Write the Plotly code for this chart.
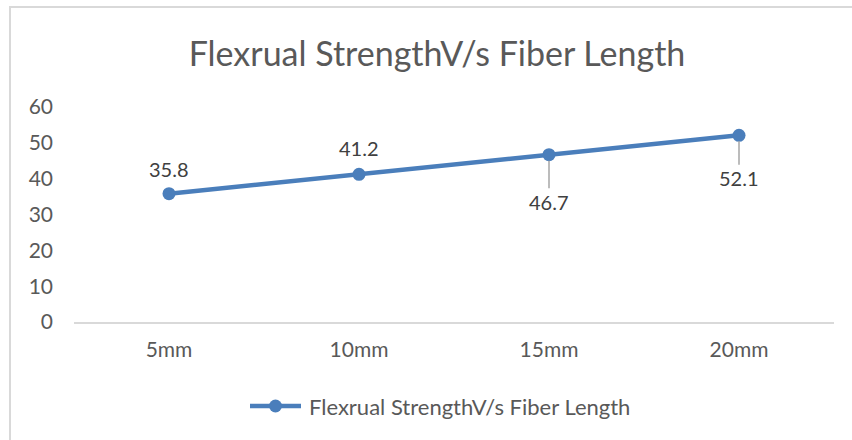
import plotly.graph_objects as go

categories = ["5mm", "10mm", "15mm", "20mm"]
values = [35.8, 41.2, 46.7, 52.1]
label_text = ["35.8", "41.2", "46.7", "52.1"]
label_offset = [-25, -26, 47, 43]
leader_line = [False, False, True, True]
series_name = "Flexrual StrengthV/s Fiber Length"
title_text = "Flexrual StrengthV/s Fiber Length"

W, H = 852, 440
L, R, T, B = 74, 18, 107, 118
pw, ph = W - L - R, H - T - B

def px_x(x):
    return (x - L) / pw

def px_y(y):
    return (H - B - y) / ph

FONT = "Lato"
GRAY = "#595959"
BLUE = "#4A7EBB"

fig = go.Figure()
fig.add_trace(go.Scatter(
    x=categories, y=values, mode="lines+markers", name=series_name,
    line=dict(color=BLUE, width=4.5),
    marker=dict(color=BLUE, size=13),
    showlegend=False,
))

for c, v, t, off, lead in zip(categories, values, label_text, label_offset, leader_line):
    if lead:
        fig.add_annotation(x=c, y=v, text=t, showarrow=True, arrowhead=0,
                           arrowwidth=1.5, arrowcolor="#A6A6A6", ax=0, ay=off,
                           standoff=6, font=dict(family=FONT, size=20, color="#404040"))
    else:
        fig.add_annotation(x=c, y=v, text=t, showarrow=False, yshift=-off,
                           font=dict(family=FONT, size=20, color="#404040"))

# chart border (left and top edges visible)
fig.add_shape(type="rect", xref="paper", yref="paper",
              x0=px_x(10), x1=px_x(W + 5), y0=px_y(H + 5), y1=px_y(7),
              line=dict(color="#D9D9D9", width=2), layer="below")

# legend (custom, to match the long line sample)
leg_y = 406
fig.add_shape(type="line", xref="paper", yref="paper",
              x0=px_x(250), x1=px_x(301), y0=px_y(leg_y), y1=px_y(leg_y),
              line=dict(color=BLUE, width=4.5))
fig.add_shape(type="circle", xref="paper", yref="paper",
              x0=px_x(275.5 - 6.5), x1=px_x(275.5 + 6.5),
              y0=px_y(leg_y + 6.5), y1=px_y(leg_y - 6.5),
              fillcolor=BLUE, line=dict(color=BLUE, width=0))
fig.add_annotation(xref="paper", yref="paper", x=px_x(307), y=px_y(leg_y),
                   xanchor="left", yanchor="middle", showarrow=False,
                   text=series_name, font=dict(family=FONT, size=22, color=GRAY))

fig.update_layout(
    width=W, height=H,
    margin=dict(l=L, r=R, t=T, b=B, pad=0),
    paper_bgcolor="white", plot_bgcolor="white",
    title=dict(text=title_text, x=437 / W, xref="container", y=1 - 54 / H,
               yanchor="middle", xanchor="center",
               font=dict(family=FONT, size=34, color=GRAY)),
    font=dict(family=FONT, size=21, color=GRAY),
    showlegend=False,
    xaxis=dict(type="category", range=[-0.5, 3.5], showgrid=False, showline=True,
               linecolor="#D9D9D9", linewidth=1.5, ticks="", zeroline=False,
               ticklabelstandoff=8,
               tickfont=dict(family=FONT, size=21, color=GRAY)),
    yaxis=dict(range=[0, 60], dtick=10, showgrid=False, showline=False,
               zeroline=False, ticks="", ticklabelstandoff=20,
               tickfont=dict(family=FONT, size=21, color=GRAY)),
)

fig.write_html("out.html", config={"displayModeBar": False},
               post_script="document.body.style.margin='0';document.body.style.overflow='hidden';")
